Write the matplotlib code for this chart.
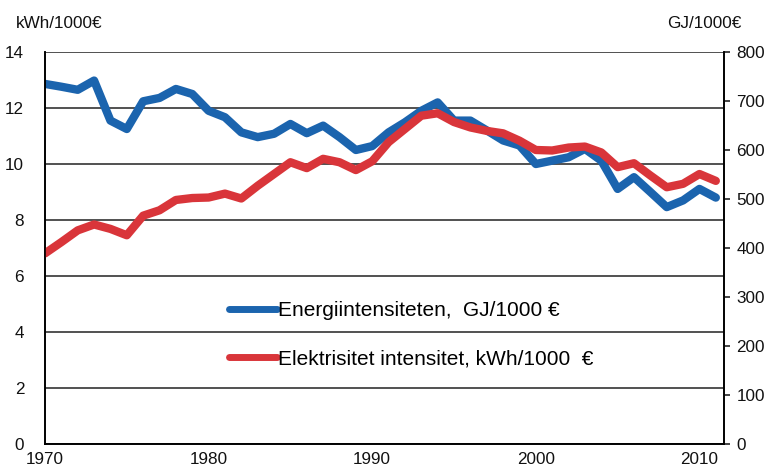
import matplotlib
matplotlib.use("Agg")
import matplotlib.pyplot as plt

plt.rcParams['font.family'] = ['Liberation Sans', 'DejaVu Sans']

years = list(range(1970, 2012))
# Energy intensity (blue, left scale)
energy = [12.86, 12.76, 12.65, 12.98, 11.55, 11.25, 12.24, 12.36, 12.68, 12.50,
          11.90, 11.67, 11.13, 10.96, 11.08, 11.43, 11.10, 11.37, 10.96, 10.50,
          10.64, 11.13, 11.49, 11.90, 12.20, 11.55, 11.55, 11.20, 10.84, 10.66,
          10.00, 10.12, 10.24, 10.54, 10.12, 9.11, 9.53, 9.00, 8.46, 8.70,
          9.11, 8.80]
# Electricity intensity (red, right scale)
electricity = [389, 412, 436, 448, 439, 426, 466, 477, 498, 502,
               503, 511, 501, 527, 551, 575, 563, 582, 575, 559,
               577, 616, 643, 670, 675, 657, 646, 639, 634, 619,
               600, 599, 605, 607, 595, 565, 573, 548, 524, 531,
               551, 537]

left_ticks = [0, 2, 4, 6, 8, 10, 12, 14]
right_ticks = [0, 100, 200, 300, 400, 500, 600, 700, 800]
x_ticks = [1970, 1980, 1990, 2000, 2010]

blue = '#1B64AE'
red = '#D9353A'

fig = plt.figure(figsize=(7.71, 4.73), dpi=100)
ax = fig.add_axes([45/771, 1 - 444/473, (724 - 45)/771, (444 - 52)/473])
ax2 = ax.twinx()

l1, = ax.plot(years, energy, color=blue, lw=6.0, solid_capstyle='round',
              solid_joinstyle='round', label='Energiintensiteten,  GJ/1000 €')
l2, = ax2.plot(years, electricity, color=red, lw=6.0, solid_capstyle='round',
               solid_joinstyle='round', label='Elektrisitet intensitet, kWh/1000  €')

ax.set_xlim(1970, 2011.5)
ax.set_ylim(0, 14)
ax2.set_ylim(0, 800)
ax.set_yticks(left_ticks)
ax2.set_yticks(right_ticks)
ax.set_xticks(x_ticks)

ax.grid(axis='y', color='#222222', lw=1.1)
ax.set_axisbelow(True)
for a in (ax, ax2):
    a.spines['top'].set_visible(False)
    a.spines['left'].set_linewidth(1.2)
    a.spines['right'].set_linewidth(1.2)
    a.spines['bottom'].set_linewidth(1.2)

ax.tick_params(axis='y', length=0, pad=15, labelsize=12.3, colors='#111111')
ax.tick_params(axis='x', length=0, pad=6, labelsize=12.3, colors='#111111')
ax2.tick_params(axis='y', length=4, width=1.1, direction='out', pad=5,
                labelsize=12.3, colors='#111111')

fig.text(16/771, 1 - 23/473, 'kWh/1000€', fontsize=12.3, ha='left', va='center',
         color='#111111')
fig.text(742/771, 1 - 23/473, 'GJ/1000€', fontsize=12.3, ha='right', va='center',
         color='#111111')

leg = ax2.legend(handles=[l1, l2], loc='center left',
                 bbox_to_anchor=((229 - 45)/679, (444 - 335)/392),
                 frameon=False, fontsize=15, handlelength=2.3,
                 handletextpad=0.05, labelspacing=1.4, borderpad=0,
                 borderaxespad=0)
for line in leg.get_lines():
    line.set_linewidth(5)

fig.savefig('out.png', dpi=100)
